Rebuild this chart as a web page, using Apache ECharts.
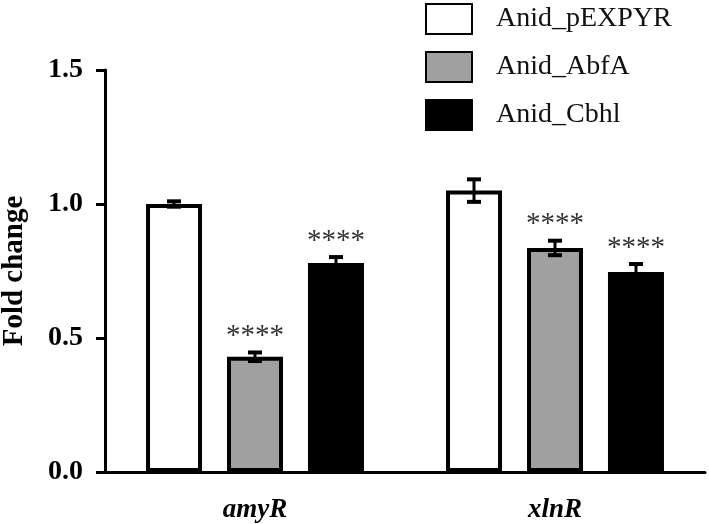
<!DOCTYPE html>
<html>
<head>
<meta charset="utf-8">
<script src="https://cdn.jsdelivr.net/npm/echarts@6/dist/echarts.min.js"></script>
<style>html,body{margin:0;padding:0;background:#fff}#c{width:709px;height:524px}</style>
</head>
<body>
<div id="c"></div>
<script>
var categories = ['amyR', 'xlnR'];
var seriesNames = ['Anid_pEXPYR', 'Anid_AbfA', 'Anid_Cbhl'];
var pexpyr = [1.0, 1.05];
var pexpyrErr = [0.01, 0.042];
var abfa = [0.43, 0.836];
var abfaErr = [0.016, 0.027];
var cbhl = [0.78, 0.746];
var cbhlErr = [0.022, 0.03];
var pexpyrSig = ['', ''];
var abfaSig = ['****', '****'];
var cbhlSig = ['****', '****'];
var yTicks = [0, 0.5, 1.0, 1.5];

var FONT = 'Liberation Serif';
var BAR_W = 56, STEP = 81;
var fills = ['#ffffff', '#a0a0a0', '#000000'];
var vals = [pexpyr, abfa, cbhl];
var errs = [pexpyrErr, abfaErr, cbhlErr];
var sigs = [pexpyrSig, abfaSig, cbhlSig];

var errData = [];
for (var s = 0; s < 3; s++) {
  for (var i = 0; i < categories.length; i++) {
    errData.push([i, vals[s][i], errs[s][i], s, sigs[s][i]]);
  }
}

var series = seriesNames.map(function (n, s) {
  return {
    name: n, type: 'bar', data: vals[s], barWidth: BAR_W, barGap: ((STEP - BAR_W) / BAR_W * 100).toFixed(1) + '%',
    itemStyle: { color: fills[s], borderColor: '#000', borderWidth: 4 },
    emphasis: { disabled: true }, z: 2
  };
});

series.push({
  type: 'custom', z: 5, silent: true,
  data: errData,
  renderItem: function (params, api) {
    var ci = api.value(0), v = api.value(1), e = api.value(2), s = api.value(3);
    var sig = errData[params.dataIndex][4];
    var pTop = api.coord([ci, v + e]);
    var pBot = api.coord([ci, v - e]);
    var x = pTop[0] + (s - 1) * STEP;
    var cw = 7;
    var ch = [
      { type: 'line', shape: { x1: x, y1: pTop[1], x2: x, y2: pBot[1] }, style: { stroke: '#000', lineWidth: 3 } },
      { type: 'line', shape: { x1: x - cw, y1: pTop[1], x2: x + cw, y2: pTop[1] }, style: { stroke: '#000', lineWidth: 4 } },
      { type: 'line', shape: { x1: x - cw, y1: pBot[1], x2: x + cw, y2: pBot[1] }, style: { stroke: '#000', lineWidth: 4 } }
    ];
    if (sig) {
      ch.push({ type: 'text', style: { text: sig, x: x, y: pTop[1] - 16, align: 'center', verticalAlign: 'middle', font: '29px "' + FONT + '"', fill: '#333' } });
    }
    return { type: 'group', children: ch };
  }
});

var chart = echarts.init(document.getElementById('c'), null, { renderer: 'canvas' });
chart.setOption({
  animation: false,
  backgroundColor: '#fff',
  grid: { left: 105, right: 4, top: 70, bottom: 52, containLabel: false, outerBoundsMode: 'none' },
  legend: {
    orient: 'vertical', left: 425, top: 3, padding: 0, itemWidth: 46, itemHeight: 30, itemGap: 16,
    icon: 'rect', data: seriesNames,
    textStyle: { fontFamily: FONT, fontSize: 28, color: '#111', padding: [0, 0, 0, 19] }
  },
  xAxis: {
    type: 'category', data: categories,
    axisLine: { lineStyle: { color: '#000', width: 3 } },
    axisTick: { alignWithLabel: true, length: 9, lineStyle: { color: '#000', width: 3 } },
    axisLabel: { fontFamily: FONT, fontSize: 27, fontWeight: 'bold', fontStyle: 'italic', color: '#000', margin: 25 }
  },
  yAxis: {
    type: 'value', min: 0, max: 1.5, interval: 0.5,
    name: 'Fold change', nameLocation: 'middle', nameGap: 76, nameRotate: 90,
    nameTextStyle: { fontFamily: FONT, fontSize: 29, fontWeight: 'bold', color: '#000' },
    axisLine: { show: true, lineStyle: { color: '#000', width: 3 } },
    axisTick: { show: true, length: 9, lineStyle: { color: '#000', width: 3 } },
    splitLine: { show: false },
    axisLabel: {
      fontFamily: FONT, fontSize: 28, fontWeight: 'bold', color: '#000', margin: 22,
      formatter: function (v) { return yTicks.indexOf(v) >= 0 ? v.toFixed(1) : ''; }
    }
  },
  series: series
});
</script>
</body>
</html>
